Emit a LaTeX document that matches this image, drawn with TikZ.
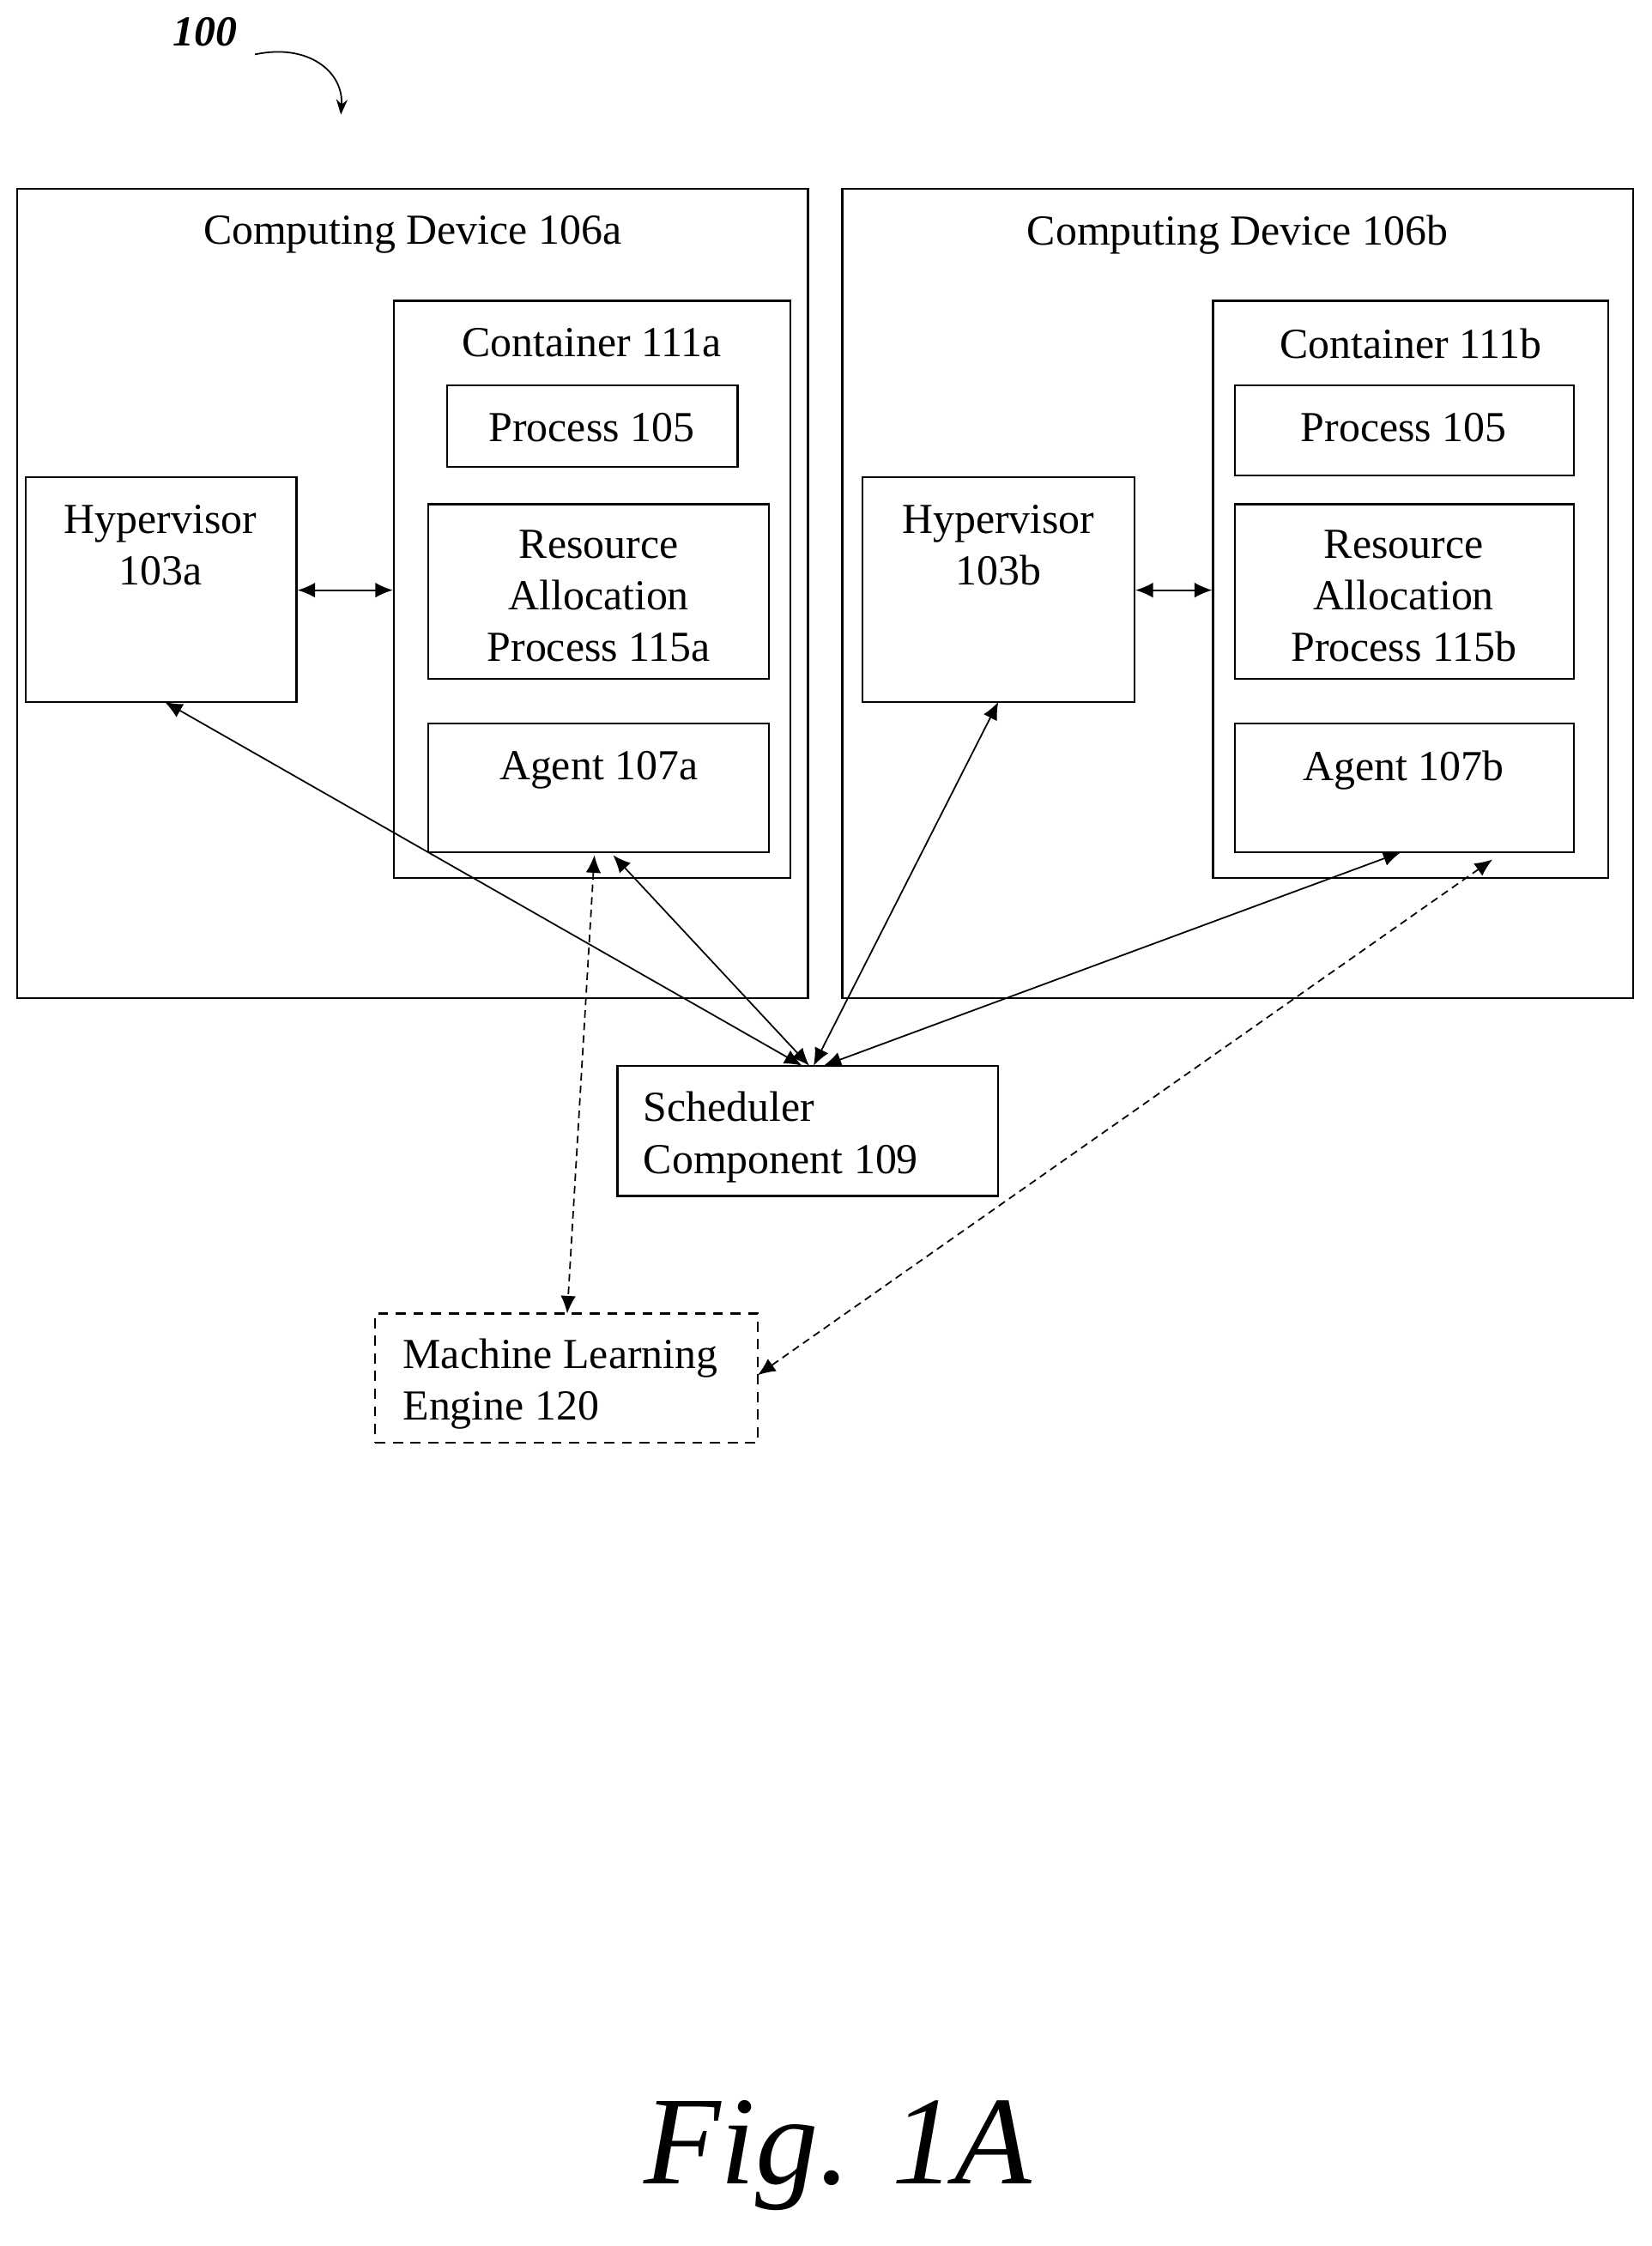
\documentclass[tikz,border=0pt]{standalone}
\usepackage{fontspec}
\setmainfont{Liberation Serif}
\usetikzlibrary{positioning,fit,arrows.meta}
\begin{document}
\begin{tikzpicture}[x=0.02cm,y=-0.02cm,font=\fontsize{17}{20.5}\selectfont]
\tikzset{box/.style={draw, line width=0.8pt, inner sep=0pt},
         lbl/.style={align=center, inner sep=0pt, anchor=north},
         link/.style={{Latex[length=7pt,width=6pt]}-{Latex[length=7pt,width=6pt]}, line width=0.6pt},
         dlink/.style={link, dash pattern=on 3pt off 2pt}}
\useasboundingbox (0,0) rectangle (1153,1568);

\node[box, fit={(12,132) (564,697)}] (cda) {};
\node[box, fit={(588,132) (1140,697)}] (cdb) {};
\node[box, fit={(275,210) (552,613)}] (conta) {};
\node[box, fit={(847,210) (1123,613)}] (contb) {};
\node[box, fit={(312,269) (515,326)}] (proca) {};
\node[box, fit={(862,269) (1099,332)}] (procb) {};
\node[box, fit={(299,352) (537,474)}] (raa) {};
\node[box, fit={(862,352) (1099,474)}] (rab) {};
\node[box, fit={(299,505) (537,595)}] (agenta) {};
\node[box, fit={(862,505) (1099,595)}] (agentb) {};
\node[box, fit={(18,333) (207,490)}] (hypa) {};
\node[box, fit={(602,333) (792,490)}] (hypb) {};
\node[box, fit={(431,744) (697,835)}] (sched) {};
\node[box, dash pattern=on 4pt off 3pt, fit={(262,917) (529,1007)}] (ml) {};

% texts
\node[lbl] at (288,150) {Computing Device 106a};
\node[lbl] at (864,150) {Computing Device 106b};
\node[lbl] at (413,229) {Container 111a};
\node[lbl] at (985,229) {Container 111b};
\node[lbl] at (413,288) {Process 105};
\node[lbl] at (980,288) {Process 105};
\node[lbl] at (418,370) {Resource\\Allocation\\Process 115a};
\node[lbl] at (980,370) {Resource\\Allocation\\Process 115b};
\node[lbl] at (418,524) {Agent 107a};
\node[lbl] at (980,524) {Agent 107b};
\node[lbl] at (112,352) {Hypervisor\\103a};
\node[lbl] at (697,352) {Hypervisor\\103b};
\node[lbl, anchor=north west, align=left] at (449,762) {Scheduler\\Component 109};
\node[lbl, anchor=north west, align=left] at (281,934) {Machine Learning\\Engine 120};

\node[font=\fontsize{17}{20}\selectfont\bfseries\itshape] (ref) at (143,22) {100};
\coordinate (refend) at (238,80);
\draw[-{Stealth[length=6pt]}, line width=0.6pt] (178,38) .. controls (215,30) and (240,50) .. (refend);

\node[font=\fontsize{50}{56}\selectfont\itshape] (fig) at (585,1505) {Fig. 1A};

% connectors
\draw[link] (hypa.east |- 0,412) -- (conta.west |- 0,412);
\draw[link] (hypb.east |- 0,412) -- (contb.west |- 0,412);
\draw[link] (115,490) -- (560,744);
\draw[link] (428,597) -- (565,744);
\draw[link] (697,490) -- (568,744);
\draw[link] (978,595) -- (575,744);
\draw[dlink] (415,597) -- (396,917);
\draw[dlink] (1042,600) -- (529,960);
\end{tikzpicture}
\end{document}
